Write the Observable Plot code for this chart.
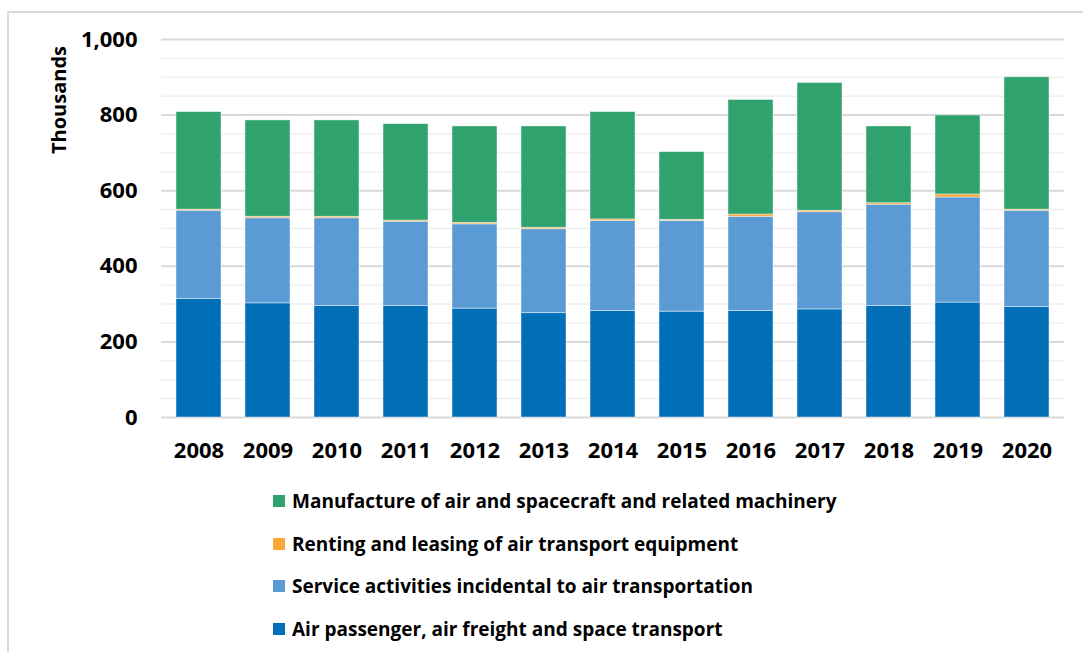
<!DOCTYPE html>
<html>
<head>
<meta charset="utf-8">
<script src="https://cdn.jsdelivr.net/npm/d3@7"></script>
<script src="https://cdn.jsdelivr.net/npm/@observablehq/plot@0.6"></script>
<style>
  html, body { margin: 0; padding: 0; background: #fff; overflow: hidden; width: 1083px; height: 652px; }
  body { position: relative; font-family: "Open Sans", sans-serif; }
  #frame { position: absolute; left: 7px; top: 11px; width: 2000px; height: 1000px;
           border-left: 2px solid #d9d9d9; border-top: 2px solid #d9d9d9; }
  #chart { position: absolute; left: 0; top: 0; }
  #ylabel { position: absolute; left: 58px; top: 100px; transform: translate(-50%, -50%) rotate(-90deg);
            font-weight: 700; font-size: 20px; color: #000; white-space: nowrap; }
  #legend { position: absolute; left: 273px; top: 480px; }
  .item { position: absolute; left: 0; white-space: nowrap; font-weight: 700; font-size: 19px; color: #000;
          display: flex; align-items: center; height: 26px; }
  .sw { width: 12px; height: 12px; margin-right: 7px; display: inline-block; }
</style>
</head>
<body>
<div id="frame"></div>
<div id="chart"></div>
<div id="ylabel">Thousands</div>
<div id="legend"></div>
<script>
const years = ["2008","2009","2010","2011","2012","2013","2014","2015","2016","2017","2018","2019","2020"];
const seriesNames = [
  "Air passenger, air freight and space transport",
  "Service activities incidental to air transportation",
  "Renting and leasing of air transport equipment",
  "Manufacture of air and spacecraft and related machinery"
];
const seriesColors = ["#016EB8", "#5B9BD5", "#F9A73A", "#2FA26E"];
const airPassenger = [314, 302, 295, 295, 288, 276, 282, 280, 282, 286, 295, 304, 292];
const serviceActivities = [233, 225, 232, 223, 223, 222, 238, 240, 249, 257, 268, 278, 255];
const rentingLeasing = [3, 4, 4, 3, 4, 4, 4, 3, 6, 4, 4, 8, 3];
const manufacture = [258, 255, 255, 255, 255, 268, 284, 179, 303, 338, 203, 209, 350];
const yTicks = [0, 200, 400, 600, 800, 1000];
const yMinorTicks = [50, 100, 150, 250, 300, 350, 450, 500, 550, 650, 700, 750, 850, 900, 950];

const seriesValues = [airPassenger, serviceActivities, rentingLeasing, manufacture];
const data = [];
years.forEach((yr, i) => {
  seriesNames.forEach((s, j) => data.push({year: yr, series: s, value: seriesValues[j][i]}));
});

const chart = Plot.plot({
  width: 1083,
  height: 480,
  marginLeft: 161,
  marginRight: 19,
  marginTop: 39,
  marginBottom: 63,
  style: { fontFamily: "Open Sans, sans-serif", fontWeight: "700", fontSize: "22px", color: "#000", background: "transparent", overflow: "visible" },
  x: { domain: years, paddingInner: 0.35, paddingOuter: 0.175, label: null },
  y: { domain: [0, 1000], label: null },
  color: { domain: seriesNames, range: seriesColors },
  marks: [
    Plot.ruleY(yMinorTicks, { stroke: "#efefef", strokeWidth: 1.5 }),
    Plot.ruleY(yTicks, { stroke: "#d9d9d9", strokeWidth: 2 }),
    Plot.barY(data, Plot.stackY({ x: "year", y: "value", fill: "series", order: seriesNames,
      stroke: "#ffffff", strokeWidth: 0.8, strokeOpacity: 0.55 })),
    Plot.axisX({ tickSize: 0, tickPadding: 25, fontSize: 22, fontWeight: 700, label: null }),
    Plot.axisY(yTicks, { tickSize: 0, tickPadding: 24, fontSize: 22, fontWeight: 700, label: null, tickFormat: d3.format(",") })
  ]
});
document.getElementById("chart").appendChild(chart);

const legend = document.getElementById("legend");
const legendOrder = [3, 2, 1, 0];
legendOrder.forEach((j, k) => {
  const item = document.createElement("div");
  item.className = "item";
  item.style.top = (k * 42.5 + 8) + "px";
  const sw = document.createElement("span");
  sw.className = "sw";
  sw.style.background = seriesColors[j];
  item.appendChild(sw);
  item.appendChild(document.createTextNode(seriesNames[j]));
  legend.appendChild(item);
});
</script>
</body>
</html>
